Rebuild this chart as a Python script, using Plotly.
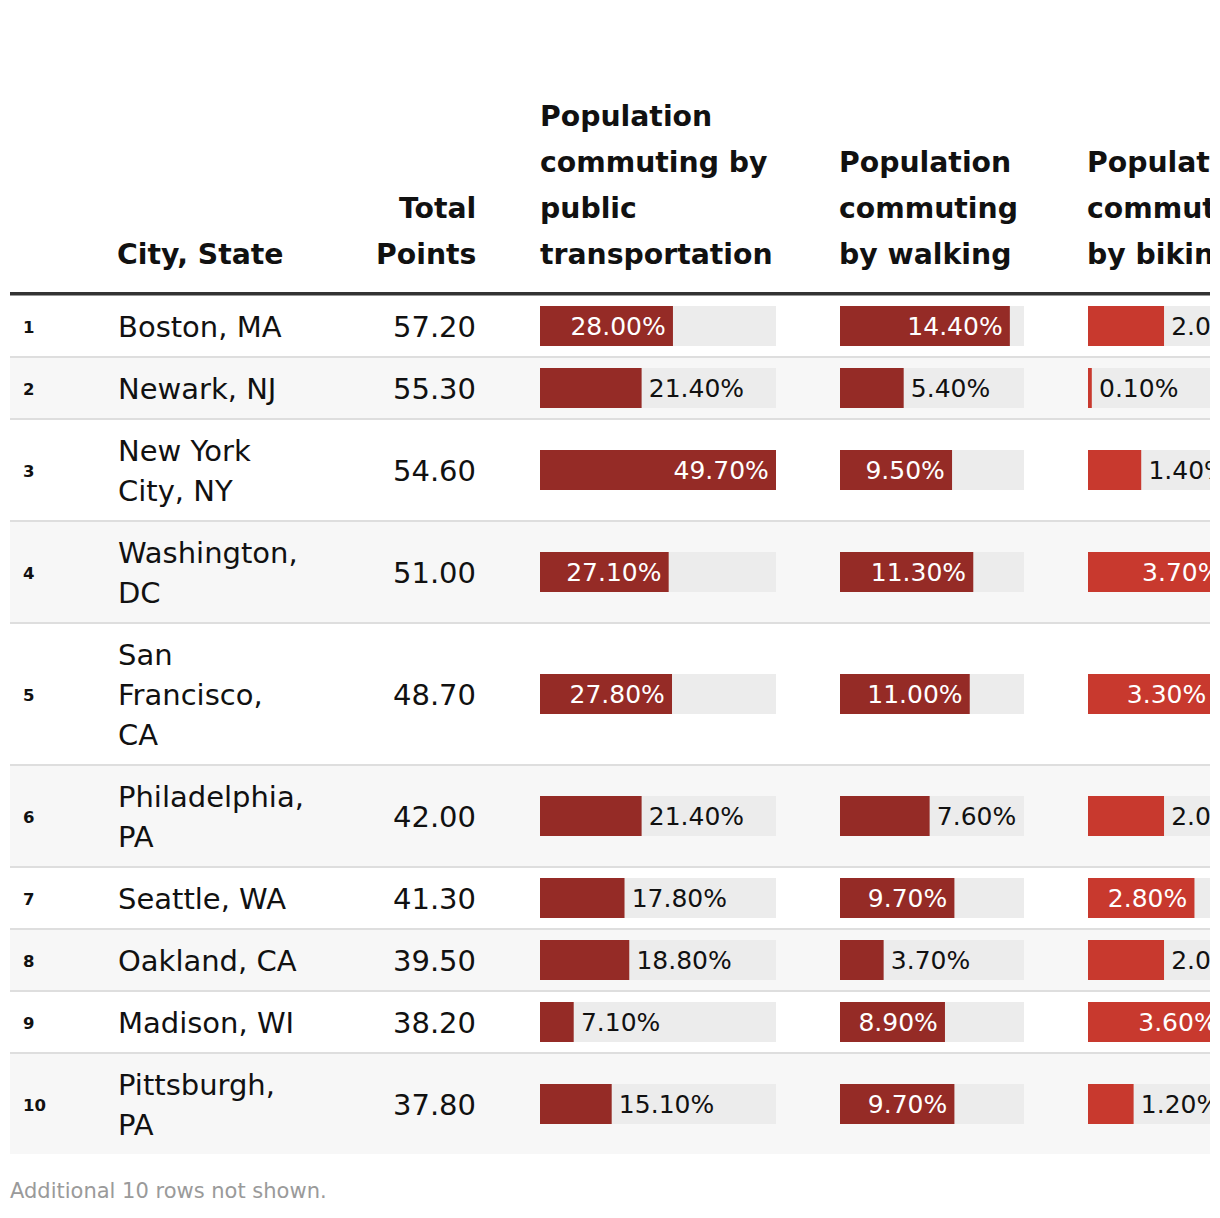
import plotly.graph_objects as go

# ---------------- data ----------------
ranks = [1, 2, 3, 4, 5, 6, 7, 8, 9, 10]
cities = ["Boston, MA", "Newark, NJ", "New York<br>City, NY", "Washington,<br>DC",
          "San<br>Francisco,<br>CA", "Philadelphia,<br>PA", "Seattle, WA",
          "Oakland, CA", "Madison, WI", "Pittsburgh,<br>PA"]
points = [57.20, 55.30, 54.60, 51.00, 48.70, 42.00, 41.30, 39.50, 38.20, 37.80]
transit = [28.0, 21.4, 49.7, 27.1, 27.8, 21.4, 17.8, 18.8, 7.1, 15.1]
walking = [14.4, 5.4, 9.5, 11.3, 11.0, 7.6, 9.7, 3.7, 8.9, 9.7]
biking = [2.0, 0.1, 1.4, 3.7, 3.3, 2.0, 2.8, 2.0, 3.6, 1.2]

# scale maxima of each bar column (full 20-row table)
transit_max = 49.7
walking_max = 15.6
biking_max = 4.84

header_city = ["City, State"]
header_points = ["Total", "Points"]
header_transit = ["Population", "commuting by", "public", "transportation"]
header_walking = ["Population", "commuting", "by walking"]
header_biking = ["Population", "commuting", "by biking"]
footer = "Additional 10 rows not shown."

# ---------------- layout constants ----------------
W, H = 1210, 1218
LEFT, RIGHT = 10, 1210
FONT = "DejaVu Sans"
DARK = "#952b26"
BRIGHT = "#c8392e"
TEXT = "#111111"
RULE_Y0, RULE_Y1 = 292, 295.5
ROW_TOP0 = 296
LINE_H = 40
ROW_PAD = 20
SEP = 2
BAR_H = 40
GAP = "\u2006"  # small extra padding between bar end and its label

n = len(cities)
nlines = [c.count("<br>") + 1 for c in cities]
tops, heights, centers = [], [], []
t = ROW_TOP0
for k in range(n):
    h = LINE_H * nlines[k] + ROW_PAD
    tops.append(t)
    heights.append(h)
    centers.append(t + h / 2)
    t += h + SEP

fig = go.Figure()
shapes = []
annotations = []

# row backgrounds and separators
for k in range(n):
    if k % 2 == 1:
        shapes.append(dict(type="rect", xref="x", yref="y", x0=LEFT, x1=RIGHT,
                           y0=tops[k], y1=tops[k] + heights[k], fillcolor="#f7f7f7",
                           line_width=0, layer="below"))
    if k < n - 1:
        shapes.append(dict(type="rect", xref="x", yref="y", x0=LEFT, x1=RIGHT,
                           y0=tops[k] + heights[k], y1=tops[k] + heights[k] + SEP,
                           fillcolor="#dedede", line_width=0, layer="below"))
shapes.append(dict(type="rect", xref="x", yref="y", x0=LEFT, x1=RIGHT, y0=RULE_Y0, y1=RULE_Y1,
                   fillcolor="#333333", line_width=0, layer="below"))


def txt(x, y, s, size, bold=False, anchor="left", color=TEXT):
    return dict(x=x, y=y, xref="x", yref="y", text=("<b>%s</b>" % s) if bold else s,
                showarrow=False, xanchor=anchor, yanchor="middle",
                font=dict(family=FONT, size=size, color=color))


# headers (bottom aligned)
HEAD_LAST = 254
HEAD_LH = 46
HEAD_SIZE = 28.3
for lines, x, anchor in [(header_city, 115, "left"), (header_points, 478, "right"),
                         (header_transit, 538, "left"), (header_walking, 837, "left"),
                         (header_biking, 1085, "left")]:
    m = len(lines)
    for i, s in enumerate(lines):
        annotations.append(txt(x, HEAD_LAST - (m - 1 - i) * HEAD_LH, s, HEAD_SIZE, True, anchor))

# body text
BODY = 29
for k in range(n):
    annotations.append(txt(21, centers[k] + 1, str(ranks[k]), 16.5, True))
    lines = cities[k].split("<br>")
    m = len(lines)
    for i, s in enumerate(lines):
        annotations.append(txt(116, centers[k] + 1 + (i - (m - 1) / 2) * LINE_H, s, BODY))
    annotations.append(txt(478, centers[k] + 1, "%.2f" % points[k], BODY, anchor="right"))

annotations.append(txt(8, 1191, footer, 21, color="#9a9a9a"))

# bar columns
columns = [(transit, transit_max, 540, 776, DARK),
           (walking, walking_max, 840, 1024, DARK),
           (biking, biking_max, 1088, 1272, BRIGHT)]
axes = {}
for j, (vals, vmax, x0, x1, color) in enumerate(columns, start=2):
    d1 = min(x1, W)
    axes["xaxis%d" % j] = dict(domain=[x0 / W, d1 / W], range=[0, vmax * (d1 - x0) / (x1 - x0)],
                               anchor="y", visible=False, fixedrange=True)
    fig.add_trace(go.Bar(x=[vmax] * n, y=centers, orientation="h", width=BAR_H,
                         marker=dict(color="#ececec", line=dict(width=0)),
                         xaxis="x%d" % j, yaxis="y", hoverinfo="skip", showlegend=False))
    inside = [v / vmax >= 0.5 for v in vals]
    labels = [("%.2f%%" % v + GAP) if f else (GAP + "%.2f%%" % v) for v, f in zip(vals, inside)]
    fig.add_trace(go.Bar(x=vals, y=centers, orientation="h", width=BAR_H,
                         marker=dict(color=color, line=dict(width=0)),
                         text=labels,
                         textposition=["inside" if f else "outside" for f in inside],
                         insidetextanchor="end", textangle=0, constraintext="none",
                         cliponaxis=True,
                         textfont=dict(family=FONT, size=25,
                                       color=["white" if f else TEXT for f in inside]),
                         xaxis="x%d" % j, yaxis="y", hoverinfo="skip", showlegend=False))

fig.update_layout(
    width=W, height=H, margin=dict(l=0, r=0, t=0, b=0, pad=0),
    paper_bgcolor="white", plot_bgcolor="rgba(0,0,0,0)",
    barmode="overlay", hovermode=False, showlegend=False,
    xaxis=dict(domain=[0, 1], range=[0, W], visible=False, fixedrange=True),
    yaxis=dict(domain=[0, 1], range=[H, 0], visible=False, fixedrange=True),
    shapes=shapes, annotations=annotations,
    font=dict(family=FONT, color=TEXT),
    **axes,
)

fig.write_html("out.html", config={"displayModeBar": False, "staticPlot": True},
               post_script="document.body.style.margin='0';document.body.style.overflow='hidden';")
